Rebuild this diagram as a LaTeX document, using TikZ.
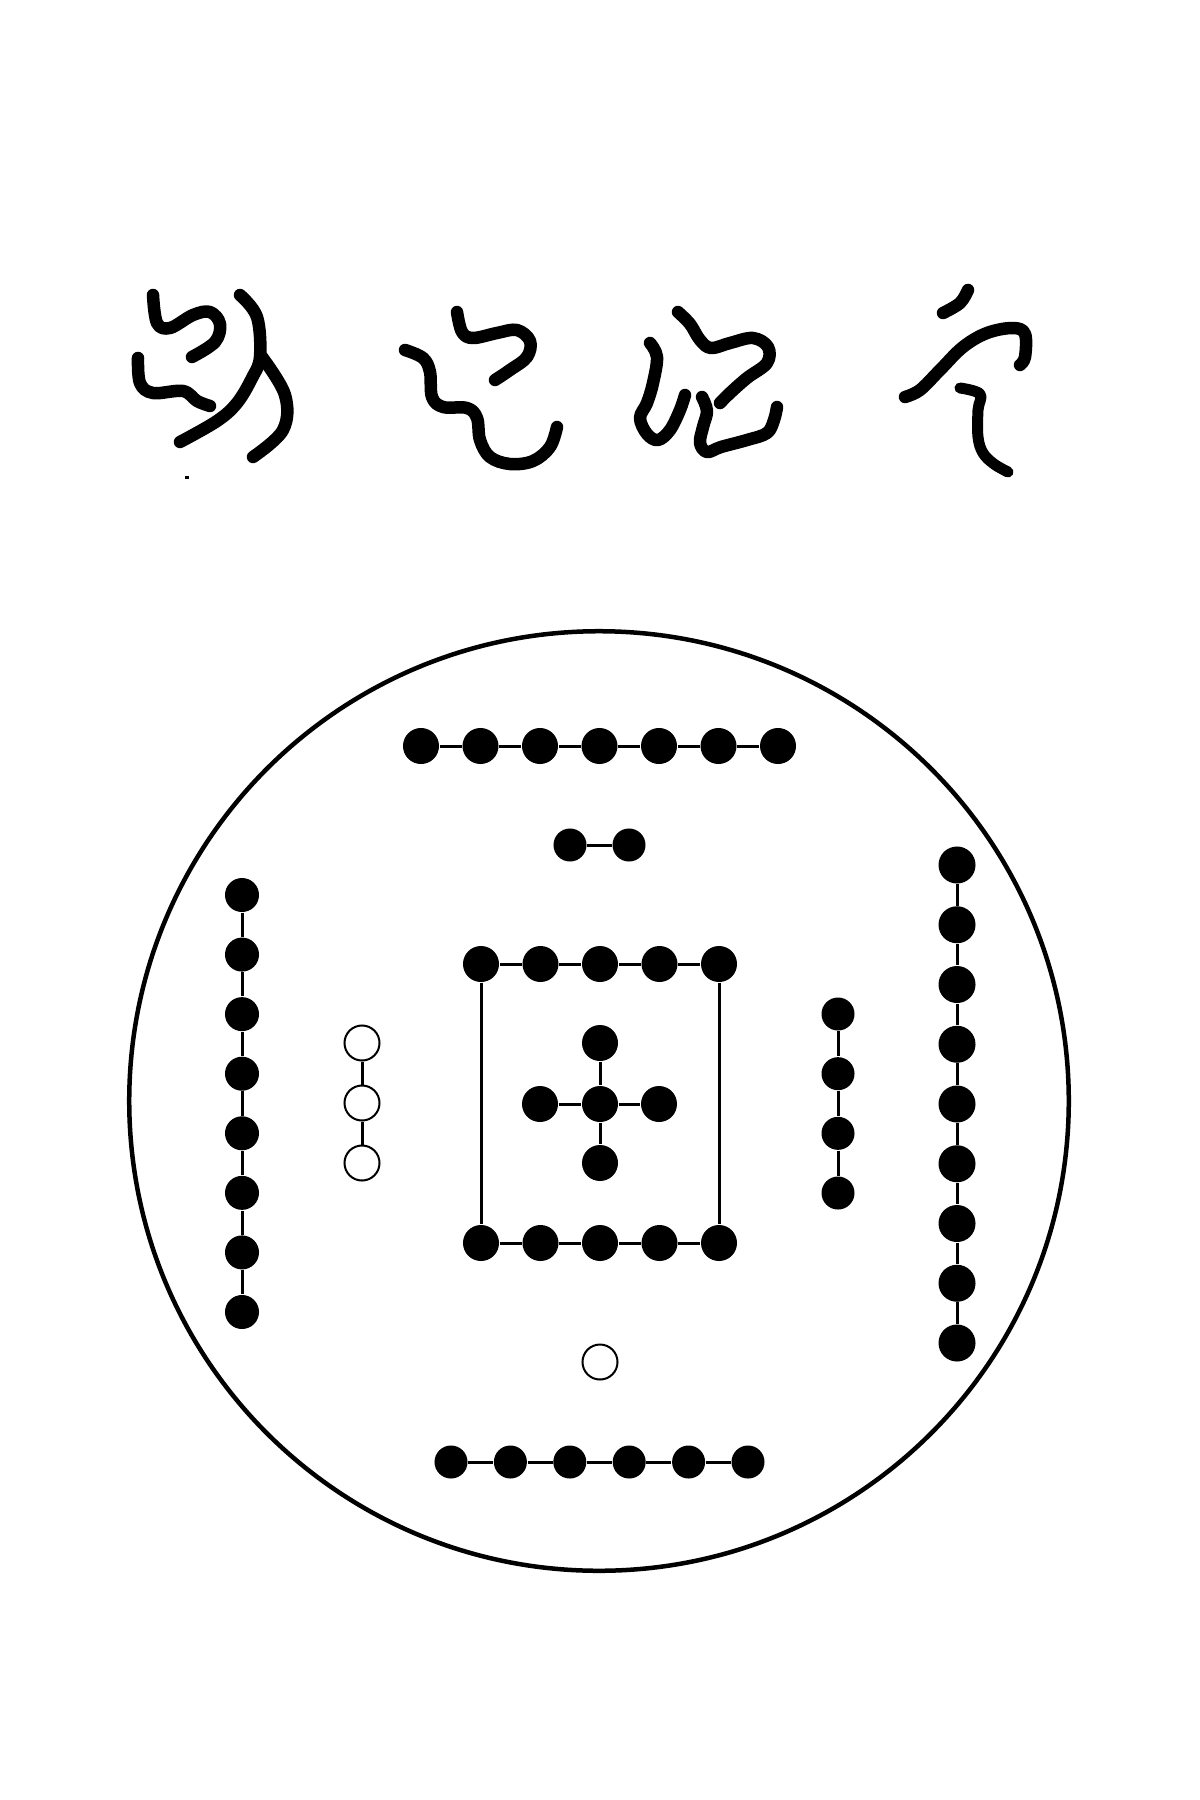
\documentclass[tikz,border=0pt]{standalone}
\usetikzlibrary{positioning}
\tikzset{
  blackdot/.style={circle,fill=black,inner sep=0pt,minimum size=3.6mm},
  smalldot/.style={blackdot,minimum size=3.3mm},
  whitedot/.style={circle,draw=black,fill=white,line width=0.2mm,inner sep=0pt,
                   minimum size=3.5mm},
  link/.style={draw=black,line width=0.3mm},
  rim/.style={draw=black,line width=0.45mm},
  glyph/.style={draw=black,line width=1.25mm,line cap=round,line join=round}
}
\begin{document}
\begin{tikzpicture}[x=0.01cm,y=-0.01cm]
    \useasboundingbox (0,0) rectangle (1200,1800);
    % handwritten heading
    \draw[glyph] plot[smooth,tension=0.6] coordinates
      {(153,295) (157,323) (170,328) (193,315) (210,312) (220,324) (215,342) (192,357)};
    \draw[glyph] plot[smooth,tension=0.6] coordinates
      {(138,358) (140,383) (153,393) (183,391) (197,401) (210,406)};
    \draw[glyph] plot[smooth,tension=0.6] coordinates
      {(240,295) (257,317) (260,357) (252,378) (237,403) (217,421) (180,442)};
    \draw[glyph] plot[smooth,tension=0.6] coordinates
      {(262,357) (285,395) (283,430) (253,457)};
    \draw[black,line width=0.3mm] (185,477) -- (189,477);
    \draw[glyph] plot[smooth,tension=0.6] coordinates
      {(457,312) (462,332) (473,338) (497,333) (517,330) (530,341) (527,357) (510,370) (495,380)};
    \draw[glyph] plot[smooth,tension=0.6] coordinates
      {(405,350) (423,358) (430,372) (432,397) (443,407) (467,408) (477,418) (480,440)
       (490,457) (510,464) (533,461) (550,447) (557,427)};
    \draw[glyph] plot[smooth,tension=0.6] coordinates
      {(650,343) (657,357) (653,383) (647,403) (640,418) (647,434) (658,440) (670,430)
       (680,410) (685,395)};
    \draw[glyph] plot[smooth,tension=0.6] coordinates
      {(678,312) (690,324) (700,340) (711,348) (730,343) (753,338) (768,347) (767,363)
       (747,378) (730,393) (720,403)};
    \draw[glyph] plot[smooth,tension=0.6] coordinates
      {(702,397) (707,411) (703,427) (700,443) (707,452) (721,447) (747,440) (767,433)
       (774,420) (777,407)};
    \draw[glyph] plot[smooth,tension=0.6] coordinates {(968,290) (960,303) (943,313)};
    \draw[glyph] plot[smooth,tension=0.6] coordinates
      {(905,397) (920,390) (940,370) (963,347) (987,333) (1013,328) (1025,334) (1025,357)
       (1020,365)};
    \draw[glyph,line width=1.1mm] plot[smooth,tension=0.6] coordinates
      {(960,388) (980,394) (978,410) (978,437) (983,453) (994,464) (1008,472)};
    % disc
    \draw[rim] (599,1101) circle[radius=4.695cm];
    % rows of dots
    \foreach \i in {1,...,7}
      \node[blackdot] (top\i) at ({421+59.5*(\i-1)},746) {};
    \node[smalldot] (pair1) at (570,845) {};
    \node[smalldot] (pair2) at (629,845) {};
    \foreach \i in {1,...,8}
      \node[blackdot,minimum size=3.4mm] (left\i) at (242,{895+59.57*(\i-1)}) {};
    \foreach \i in {1,...,3}
      \node[whitedot] (wl\i) at (362,{1043+60*(\i-1)}) {};
    \foreach \i in {1,...,5} {
      \node[blackdot] (sqt\i) at ({481+59.5*(\i-1)},964) {};
      \node[blackdot] (sqb\i) at ({481+59.5*(\i-1)},1243) {};
    }
    \node[blackdot] (mid) at (600,1104) {};
    \node[blackdot] (midn) at (600,1043) {};
    \node[blackdot] (mids) at (600,1163) {};
    \node[blackdot] (midw) at (540,1104) {};
    \node[blackdot] (mide) at (659,1104) {};
    \foreach \i in {1,...,4}
      \node[smalldot] (rin\i) at (838,{1014+59.67*(\i-1)}) {};
    \foreach \i in {1,...,9}
      \node[blackdot,minimum size=3.7mm] (rout\i) at (957,{865+59.75*(\i-1)}) {};
    \node[whitedot] (wb) at (600,1362) {};
    \foreach \i in {1,...,6}
      \node[smalldot] (bot\i) at ({451+59.4*(\i-1)},1462) {};
    % links
    \foreach \i [remember=\i as \j (initially 1)] in {2,...,7}
      \draw[link] (top\j) -- (top\i);
    \draw[link] (pair1) -- (pair2);
    \foreach \i [remember=\i as \j (initially 1)] in {2,...,8}
      \draw[link] (left\j) -- (left\i);
    \foreach \i [remember=\i as \j (initially 1)] in {2,...,3}
      \draw[link] (wl\j) -- (wl\i);
    \foreach \i [remember=\i as \j (initially 1)] in {2,...,5} {
      \draw[link] (sqt\j) -- (sqt\i);
      \draw[link] (sqb\j) -- (sqb\i);
    }
    \draw[link] (sqt1) -- (sqb1);
    \draw[link] (sqt5) -- (sqb5);
    \draw[link] (midn) -- (mid) -- (mids);
    \draw[link] (midw) -- (mid) -- (mide);
    \foreach \i [remember=\i as \j (initially 1)] in {2,...,4}
      \draw[link] (rin\j) -- (rin\i);
    \foreach \i [remember=\i as \j (initially 1)] in {2,...,9}
      \draw[link] (rout\j) -- (rout\i);
    \foreach \i [remember=\i as \j (initially 1)] in {2,...,6}
      \draw[link] (bot\j) -- (bot\i);
  \end{tikzpicture}
\end{document}
